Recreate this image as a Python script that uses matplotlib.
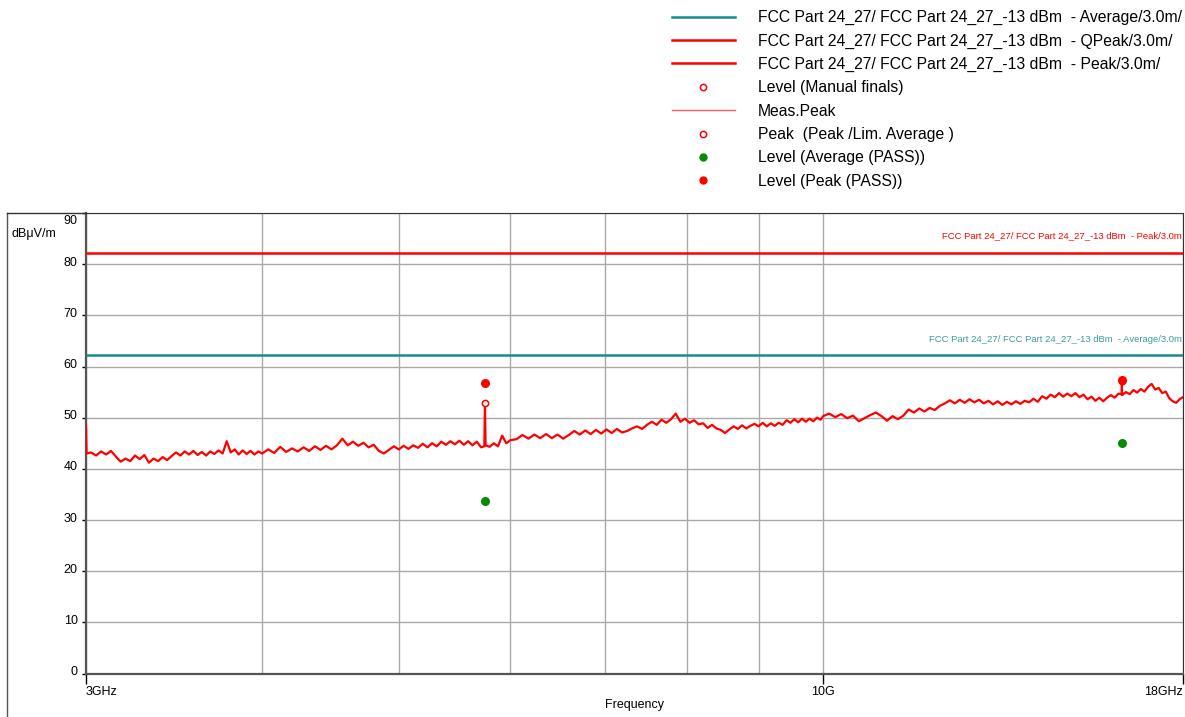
import numpy as np
import matplotlib
matplotlib.use("Agg")
import matplotlib.pyplot as plt
from matplotlib.lines import Line2D
from matplotlib.ticker import NullFormatter
import matplotlib.transforms as mtransforms

plt.rcParams.update({"font.family": ["Liberation Sans", "DejaVu Sans"],
                     "font.size": 9})

freq_a = [3.000, 3.003, 3.025, 3.050, 3.075, 3.100, 3.125, 3.150, 3.175, 3.200, 3.225,
          3.250, 3.275, 3.300, 3.325, 3.350, 3.375, 3.400, 3.425, 3.450, 3.475,
          3.500, 3.525, 3.550, 3.575, 3.600, 3.625, 3.650, 3.675, 3.700, 3.725,
          3.750, 3.775, 3.800, 3.825, 3.850, 3.875, 3.900, 3.925, 3.950, 3.975,
          4.000]
level_a = [48.5, 43.0, 43.2, 42.6, 43.4, 42.8, 43.5, 42.4, 41.4, 42.0, 41.5,
           42.6, 41.9, 42.7, 41.2, 42.0, 41.5, 42.3, 41.7, 42.5, 43.2,
           42.6, 43.4, 42.8, 43.5, 42.7, 43.3, 42.6, 43.4, 42.9, 43.6,
           43.0, 45.4, 43.2, 43.8, 42.8, 43.6, 42.9, 43.5, 42.8, 43.4,
           43.0]

freq_b = [4.04, 4.08, 4.12, 4.16, 4.20, 4.24, 4.28, 4.32, 4.36, 4.40,
          4.44, 4.48, 4.52, 4.56, 4.60, 4.64, 4.68, 4.72, 4.76, 4.80,
          4.84, 4.88, 4.92, 4.96, 5.00, 5.04, 5.08, 5.12, 5.16, 5.20,
          5.24, 5.28, 5.32, 5.36, 5.40, 5.44, 5.48, 5.52, 5.56, 5.60,
          5.64, 5.68, 5.72, 5.750, 5.756, 5.762, 5.80, 5.84, 5.88, 5.92,
          5.96, 6.00]
level_b = [43.8, 43.1, 44.3, 43.3, 44.0, 43.4, 44.2, 43.5, 44.4, 43.7,
           44.5, 43.8, 44.6, 45.9, 44.6, 45.3, 44.5, 45.1, 44.2, 44.7,
           43.5, 43.0, 43.7, 44.4, 43.8, 44.5, 43.9, 44.6, 44.1, 44.9,
           44.2, 45.0, 44.4, 45.3, 44.7, 45.4, 44.8, 45.5, 44.7, 45.4,
           44.6, 45.3, 44.2, 44.4, 52.9, 44.6, 44.3, 45.0, 44.4, 46.5,
           45.0, 45.6]

freq_c = [6.06, 6.12, 6.18, 6.24, 6.30, 6.36, 6.42, 6.48, 6.54, 6.60,
          6.66, 6.72, 6.78, 6.84, 6.90, 6.96, 7.02, 7.08, 7.14, 7.20,
          7.26, 7.32, 7.38, 7.44, 7.50, 7.56, 7.62, 7.68, 7.74, 7.80,
          7.86, 7.92, 7.98, 8.04, 8.10, 8.16, 8.22, 8.28, 8.34, 8.40,
          8.46, 8.52, 8.58, 8.64, 8.70, 8.76, 8.82, 8.88, 8.94, 9.00,
          9.06, 9.12, 9.18, 9.24, 9.30, 9.36, 9.42, 9.48, 9.54, 9.60,
          9.66, 9.72, 9.78, 9.84, 9.90, 9.96, 10.00]
level_c = [45.8, 46.6, 45.9, 46.7, 46.0, 46.8, 46.0, 46.7, 45.9, 46.6,
           47.4, 46.7, 47.5, 46.8, 47.6, 46.9, 47.7, 47.0, 47.8, 47.1,
           47.4, 47.9, 48.3, 47.8, 48.6, 49.2, 48.6, 49.6, 49.0, 49.7,
           50.8, 49.2, 49.8, 49.0, 49.5, 48.7, 48.9, 48.0, 48.6, 47.9,
           47.6, 47.0, 47.7, 48.3, 47.8, 48.5, 47.9, 48.4, 48.8, 48.3,
           49.0, 48.3, 48.9, 48.4, 49.0, 48.6, 49.5, 49.0, 49.7, 49.1,
           49.8, 49.2, 49.8, 49.3, 50.0, 49.6, 50.3]

freq_d = [10.1, 10.2, 10.3, 10.4, 10.5, 10.6, 10.7, 10.8, 10.9, 11.0,
          11.1, 11.2, 11.3, 11.4, 11.5, 11.6, 11.7, 11.8, 11.9, 12.0,
          12.1, 12.2, 12.3, 12.4, 12.5, 12.6, 12.7, 12.8, 12.9, 13.0,
          13.1, 13.2, 13.3, 13.4, 13.5, 13.6, 13.7, 13.8, 13.9, 14.0,
          14.1, 14.2, 14.3, 14.4, 14.5, 14.6, 14.7, 14.8, 14.9, 15.0,
          15.1, 15.2, 15.3, 15.4, 15.5, 15.6, 15.7, 15.8, 15.9, 16.0,
          16.1, 16.2, 16.285, 16.29, 16.295, 16.4, 16.5, 16.6, 16.7, 16.8,
          16.9, 17.0, 17.1, 17.2, 17.3, 17.4, 17.5, 17.6, 17.7, 17.8,
          17.9, 18.0]
level_d = [50.8, 50.1, 50.7, 49.9, 50.4, 49.3, 49.9, 50.5, 51.0, 50.3,
           49.4, 50.3, 49.7, 50.4, 51.6, 51.0, 51.8, 51.2, 51.9, 51.5,
           52.3, 52.8, 53.4, 52.8, 53.5, 52.9, 53.6, 53.0, 53.5, 52.8,
           53.3, 52.6, 53.2, 52.5, 53.1, 52.6, 53.2, 52.7, 53.3, 53.0,
           53.7, 53.1, 54.2, 53.7, 54.5, 54.0, 54.8, 54.1, 54.7, 54.2,
           54.8, 54.0, 54.5, 53.6, 54.1, 53.3, 53.9, 53.2, 53.9, 54.4,
           53.9, 54.7, 54.6, 57.2, 54.4, 55.0, 54.6, 55.4, 54.9, 55.6,
           55.1, 56.0, 56.6, 55.5, 55.8, 54.8, 55.1, 53.8, 53.2, 52.9,
           53.6, 54.0]

# --- limits and final measurement points ---
LIMIT_PEAK = 82.2
LIMIT_AVG = 62.2
final_freq = [5.756, 16.29]
final_peak = [56.8, 57.3]
final_avg = [33.8, 45.1]
peak_marker = [52.9, 57.2]

RED = "#ff0000"
TEAL = "#178c8c"
GREEN = "#078a07"
GRID = "#a9a9a9"
DARK = "#555555"

lim_prefix = "FCC Part 24_27/ FCC Part 24_27_-13 dBm  - "

W, H = 1185, 717
fig = plt.figure(figsize=(W / 100, H / 100), dpi=100)
ax = fig.add_axes([86 / W, 43.5 / H, 1097 / W, 460.5 / H])

freq = freq_a + freq_b + freq_c + freq_d
level = level_a + level_b + level_c + level_d

ax.axhline(LIMIT_PEAK, color=RED, lw=1.8, zorder=3)
ax.axhline(LIMIT_AVG, color=TEAL, lw=1.8, zorder=3)
ax.plot(freq, level, color=RED, lw=1.6, zorder=4)
ax.plot(final_freq, peak_marker, "o", ms=4.5, mfc="white", mec=RED, mew=1.1, zorder=5)
ax.plot(final_freq, final_peak, "o", ms=5.5, color=RED, zorder=6)
ax.plot(final_freq, final_avg, "o", ms=5.5, color=GREEN, zorder=6)

blend = mtransforms.blended_transform_factory(ax.transAxes, ax.transData)
ax.annotate(lim_prefix + "Peak/3.0m", xy=(0.999, LIMIT_PEAK), xycoords=blend,
            xytext=(0, 9), textcoords="offset points", ha="right", va="bottom",
            fontsize=6.8, color=RED)
ax.annotate(lim_prefix + "Average/3.0m", xy=(0.999, LIMIT_AVG), xycoords=blend,
            xytext=(0, 8), textcoords="offset points", ha="right", va="bottom",
            fontsize=6.8, color="#3a9c9c")

ax.set_xscale("log")
ax.set_xlim(3, 18)
ax.set_ylim(0, 90)
ax.set_xticks([3, 10, 18])
ax.set_xticklabels(["3GHz", "10G", "18GHz"])
ax.set_xticks([4, 5, 6, 7, 8, 9], minor=True)
ax.xaxis.set_minor_formatter(NullFormatter())
ax.set_yticks(np.arange(0, 91, 10))
ax.grid(True, which="both", axis="x", color=GRID, lw=1)
ax.grid(True, which="major", axis="y", color=GRID, lw=1)
ax.set_axisbelow(True)
ax.tick_params(axis="x", which="minor", length=0)
ax.tick_params(axis="x", which="major", length=7, width=1, pad=2, colors="black")
ax.tick_params(axis="y", length=3, width=1, pad=3)
labels = ax.get_xticklabels()
labels[0].set_ha("left")
labels[2].set_ha("right")
ylabels = ax.get_yticklabels()
for lab in ylabels:
    lab.set_va("baseline")
    lab.set_transform(lab.get_transform() +
                      mtransforms.ScaledTranslation(0, -1.5 / 100, fig.dpi_scale_trans))
ylabels[-1].set_transform(ylabels[-1].get_transform() +
                          mtransforms.ScaledTranslation(0, -9.5 / 100, fig.dpi_scale_trans))

for side in ["left", "bottom"]:
    ax.spines[side].set_color(DARK)
    ax.spines[side].set_linewidth(1.6)
ax.spines["top"].set_color("#333333")
ax.spines["right"].set_color("#333333")

ax.set_xlabel("Frequency", labelpad=0.5)
fig.text(11 / W, 1 - 234 / H, "dB\u03bcV/m", ha="left", va="center", fontsize=9)

# outer frame (left and top edges)
fig.add_artist(Line2D([7 / W, 7 / W], [0, 1 - 213 / H], transform=fig.transFigure,
                      color=DARK, lw=1))
fig.add_artist(Line2D([7 / W, 86 / W], [1 - 213 / H, 1 - 213 / H],
                      transform=fig.transFigure, color="#333333", lw=1))

handles = [
    Line2D([], [], color=TEAL, lw=1.8),
    Line2D([], [], color=RED, lw=1.8),
    Line2D([], [], color=RED, lw=1.8),
    Line2D([], [], ls="", marker="o", ms=4.5, mfc="white", mec=RED, mew=1.1),
    Line2D([], [], color="#ff5a5a", lw=1),
    Line2D([], [], ls="", marker="o", ms=4.5, mfc="white", mec=RED, mew=1.1),
    Line2D([], [], ls="", marker="o", ms=5, color=GREEN),
    Line2D([], [], ls="", marker="o", ms=5, color=RED),
]
names = [
    lim_prefix + "Average/3.0m/",
    lim_prefix + "QPeak/3.0m/",
    lim_prefix + "Peak/3.0m/",
    "Level (Manual finals)",
    "Meas.Peak",
    "Peak  (Peak /Lim. Average )",
    "Level (Average (PASS))",
    "Level (Peak (PASS))",
]
fig.legend(handles, names, loc="upper left", bbox_to_anchor=(672 / W, 1 - 10 / H),
           frameon=False, fontsize=11.3, handlelength=4.0, handletextpad=1.45,
           labelspacing=0.53, borderpad=0, borderaxespad=0)

fig.savefig("out.png", dpi=100)
